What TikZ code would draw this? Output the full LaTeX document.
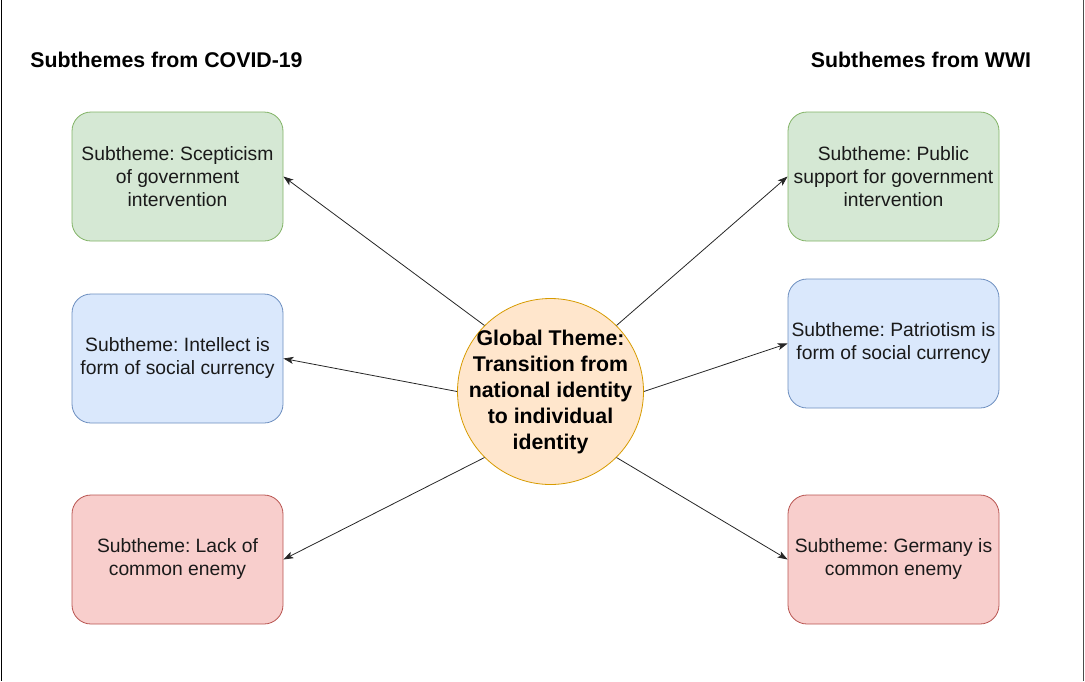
\documentclass[tikz,border=0pt]{standalone}
\usepackage{fontspec}
\setmainfont{Liberation Sans}
\usetikzlibrary{arrows.meta}
\definecolor{gfill}{HTML}{D5E8D4}\definecolor{gdraw}{HTML}{82B366}
\definecolor{bfill}{HTML}{DAE8FC}\definecolor{bdraw}{HTML}{6C8EBF}
\definecolor{rfill}{HTML}{F8CECC}\definecolor{rdraw}{HTML}{B85450}
\definecolor{ofill}{HTML}{FFE6CC}\definecolor{odraw}{HTML}{D79B00}
\definecolor{txt}{HTML}{1A1A1A}
\tikzset{
  subbox/.style={rectangle, rounded corners=19pt, minimum width=211pt, minimum height=129pt,
    inner sep=0pt, align=center, line width=0.8pt, text=txt,
    font=\frenchspacing\fontsize{19.3}{23}\selectfont},
  greenbox/.style={subbox, fill=gfill, draw=gdraw},
  bluebox/.style={subbox, fill=bfill, draw=bdraw},
  redbox/.style={subbox, fill=rfill, draw=rdraw},
  globalnode/.style={circle, minimum size=186pt, inner sep=-14pt, fill=ofill, draw=odraw,
    line width=0.8pt, align=center, font=\frenchspacing\bfseries\fontsize{21.3}{26}\selectfont},
  titlenode/.style={font=\bfseries\fontsize{21.3}{26}\selectfont, inner sep=0pt},
  link/.style={draw=black!85, line width=0.8pt, -{Stealth[length=10pt,width=7pt,inset=2.5pt]}}
}
\begin{document}
\begin{tikzpicture}[x=1pt,y=-1pt]
\useasboundingbox (0,0) rectangle (1085,681);
\draw[line width=1pt] (1,0) -- (1,681);
\draw[line width=1pt, black!70] (1083.5,0) -- (1083.5,681);

\node[titlenode] (t1) at (166.5,60) {Subthemes from COVID-19};
\node[titlenode] (t2) at (921,60) {Subthemes from WWI};

\node[greenbox] (l1) at (177.5,176.5) {Subtheme: Scepticism\\of government\\intervention};
\node[bluebox]  (l2) at (177.5,358.5) {Subtheme: Intellect is\\form of social currency};
\node[redbox]   (l3) at (177.5,559.5) {Subtheme: Lack of\\common enemy};

\node[greenbox] (r1) at (893.5,176.5) {Subtheme: Public\\support for government\\intervention};
\node[bluebox]  (r2) at (893.5,343.5) {Subtheme: Patriotism is\\form of social currency};
\node[redbox]   (r3) at (893.5,559.5) {Subtheme: Germany is\\common enemy};

\node[globalnode] (c) at (550.5,391.5) {Global Theme:\\Transition from\\national identity\\to individual\\identity};

\draw[link] (c.135) -- (l1.east);
\draw[link] (c.180) -- (l2.east);
\draw[link] (c.225) -- (l3.east);
\draw[link] (c.45)  -- (r1.west);
\draw[link] (c.0)   -- (r2.west);
\draw[link] (c.315) -- (r3.west);
\end{tikzpicture}
\end{document}
